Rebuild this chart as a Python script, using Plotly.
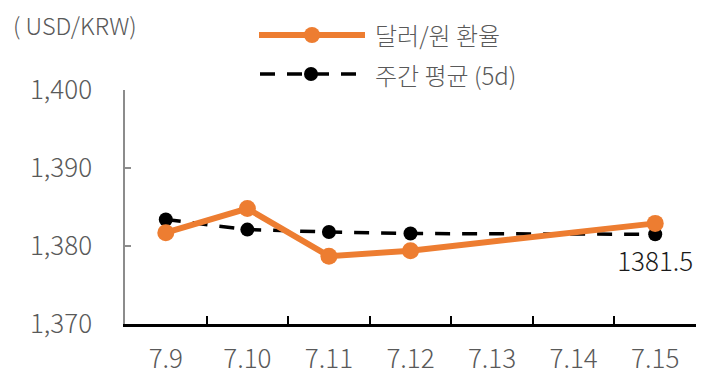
import plotly.graph_objects as go

categories = ["7.9", "7.10", "7.11", "7.12", "7.13", "7.14", "7.15"]
usd_krw = [1381.7, 1384.8, 1378.7, 1379.4, None, None, 1382.9]
weekly_avg = [1383.4, 1382.1, 1381.8, 1381.6, None, None, 1381.5]
y_ticks = [1370, 1380, 1390, 1400]
y_tick_text = ["1,370", "1,380", "1,390", "1,400"]
name_rate = "달러/원 환율"
name_avg = "주간 평균 (5d)"
last_label = ["", "", "", "", "", "", "1381.5"]

ORANGE = "#ED7D31"
FONT = "Noto Sans CJK KR"
GRAY = "#595959"
DASH = "15px,12px"

# the page body adds an 8px offset; design in page pixels, then shift
OFF = 8
FW, FH = 709 - OFF, 386 - OFF
L, R, T, B = 125 - OFF, 696 - OFF, 90 - OFF, 324 - OFF
W, H = R - L, B - T


def px(x):
    return (x - OFF - L) / W


def py(y):
    return (B - (y - OFF)) / H


fig = go.Figure()
fig.add_trace(go.Scatter(
    x=categories, y=weekly_avg, mode="lines+markers", connectgaps=True,
    line=dict(color="black", width=3.5, dash=DASH),
    marker=dict(color="black", size=14), name=name_avg, showlegend=False,
))
fig.add_trace(go.Scatter(
    x=categories, y=usd_krw, mode="lines+markers", connectgaps=True,
    line=dict(color=ORANGE, width=6),
    marker=dict(color=ORANGE, size=17), name=name_rate, showlegend=False,
))
# data label for last weekly average
fig.add_trace(go.Scatter(
    x=categories, y=weekly_avg, mode="markers+text", text=last_label,
    textposition="bottom center", cliponaxis=False,
    marker=dict(size=26, opacity=0), hoverinfo="skip", showlegend=False,
    textfont=dict(family=FONT, size=26, color="#1a1a1a", weight=300),
))

shapes = []
shapes.append(dict(type="line", xref="paper", yref="paper", x0=px(259), x1=px(365),
                   y0=py(35), y1=py(35), line=dict(color=ORANGE, width=6)))
shapes.append(dict(type="circle", xref="paper", yref="paper", xsizemode="pixel", ysizemode="pixel",
                   xanchor=px(312), yanchor=py(35), x0=-8, x1=8, y0=-8, y1=8,
                   fillcolor=ORANGE, line=dict(color=ORANGE, width=0)))
shapes.append(dict(type="line", xref="paper", yref="paper", x0=px(260), x1=px(358),
                   y0=py(74), y1=py(74), line=dict(color="black", width=3.5, dash=DASH)))
shapes.append(dict(type="circle", xref="paper", yref="paper", xsizemode="pixel", ysizemode="pixel",
                   xanchor=px(311), yanchor=py(74), x0=-7, x1=7, y0=-7, y1=7,
                   fillcolor="black", line=dict(color="black", width=0)))
fig.update_layout(shapes=shapes)

fig.add_annotation(xref="paper", yref="paper", x=px(373), y=py(35), text=name_rate,
                   showarrow=False, xanchor="left", yanchor="middle",
                   font=dict(family=FONT, size=24, color=GRAY, weight=300))
fig.add_annotation(xref="paper", yref="paper", x=px(373), y=py(74), text=name_avg,
                   showarrow=False, xanchor="left", yanchor="middle",
                   font=dict(family=FONT, size=24, color=GRAY, weight=300))
fig.add_annotation(xref="paper", yref="paper", x=px(11), y=py(25), text="( USD/KRW)",
                   showarrow=False, xanchor="left", yanchor="middle",
                   font=dict(family=FONT, size=23.5, color=GRAY, weight=300))

fig.update_xaxes(
    type="category", categoryorder="array", categoryarray=categories,
    range=[-0.5, 6.5], showgrid=False, zeroline=False,
    showline=True, linecolor="black", linewidth=2.5,
    ticks="inside", tickson="boundaries", ticklen=8, tickwidth=2, tickcolor="black",
    tickfont=dict(family=FONT, size=26, color=GRAY, weight=300), ticklabelstandoff=10,
)
fig.update_yaxes(
    range=[1370, 1400], tickvals=y_ticks, ticktext=y_tick_text,
    showgrid=False, zeroline=False,
    showline=True, linecolor="#8c8c8c", linewidth=1.5,
    ticks="inside", ticklen=6, tickwidth=1.5, tickcolor="#8c8c8c",
    tickfont=dict(family=FONT, size=26, color=GRAY, weight=300), ticklabelstandoff=26,
)
fig.update_layout(
    width=FW, height=FH,
    margin=dict(l=L, r=FW - R, t=T, b=FH - B, autoexpand=False),
    paper_bgcolor="white", plot_bgcolor="white",
    showlegend=False,
)
fig.write_html("out.html")
